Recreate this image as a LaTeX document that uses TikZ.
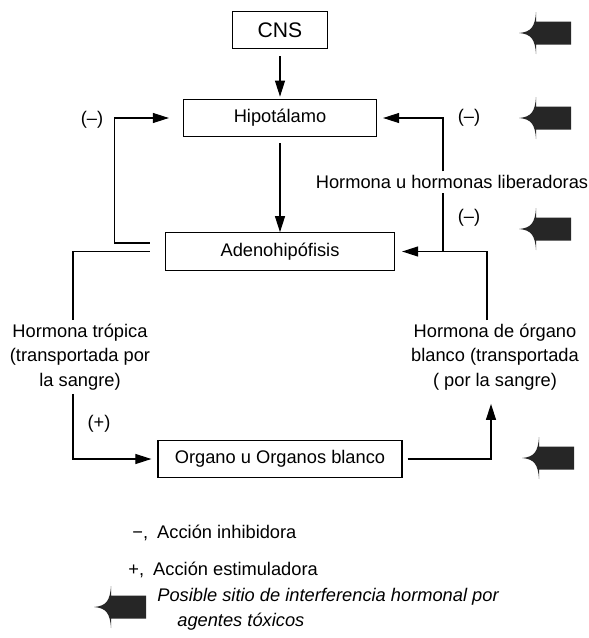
\documentclass[tikz,border=0pt]{standalone}
\usepackage{fontspec}
\setmainfont{Liberation Sans}
\usetikzlibrary{arrows.meta, positioning}

\begin{document}
\begin{tikzpicture}[
    font=\fontsize{10.4}{13.9}\selectfont,
    caja/.style={
        draw, line width=0.7pt, minimum height=0.75cm, inner sep=2pt
    },
    etiqueta/.style={align=center, inner sep=2pt},
    signo/.style={inner sep=0pt},
    linea/.style={line width=0.6pt},
    flecha/.style={-{Triangle[length=3.2mm, width=2mm]}, line width=0.6pt},
    sitio/.pic={
        \fill[black!85] (0,0) .. controls (0.24,0.02) and (0.32,0.12) .. (0.34,0.42)
            -- (0.34,0.23) -- (1.04,0.23) -- (1.04,-0.23) -- (0.34,-0.23) -- (0.34,-0.42)
            .. controls (0.32,-0.12) and (0.24,-0.02) .. (0,0) -- cycle;
    }
]
\useasboundingbox (0,0) rectangle (11.78,-12.76);

% cajas
\node[caja, minimum width=1.9cm, font=\fontsize{12}{14}\selectfont] (cns) at (5.6,-0.6) {CNS};
\node[caja, minimum width=3.86cm] (hipo) at (5.6,-2.36) {Hipotálamo};
\node[caja, minimum width=4.58cm] (adeno) at (5.6,-5.03) {Adenohipófisis};
\node[caja, minimum width=4.88cm] (organo) at (5.6,-9.18) {Organo u Organos blanco};

% textos de las hormonas
\node[etiqueta] (lib) at (9.04,-3.64) {Hormona u hormonas liberadoras};
\node[etiqueta] (trop) at (1.6,-7.14) {Hormona trópica\\(transportada por\\la sangre)};
\node[etiqueta] (blanco) at (9.9,-7.14) {Hormona de órgano\\blanco (transportada\\( por la sangre)};

\node[signo] (m1) at (1.84,-2.40) {(–)};
\node[signo] (m2) at (9.38,-2.36) {(–)};
\node[signo] (m3) at (9.38,-4.36) {(–)};
\node[signo] (p1) at (1.98,-8.48) {(+)};

\coordinate (fbl) at ([xshift=-0.3cm, yshift=0.17cm]adeno.west);
\coordinate (trl) at ([xshift=-0.3cm]adeno.west);
\coordinate (jr) at (8.86,-5.03);

\draw[flecha, shorten <=0.14cm, shorten >=0.04cm] (cns) -- (hipo);
\draw[flecha, shorten <=0.12cm] (hipo) -- (adeno);

\draw[flecha, shorten >=0.28cm] (fbl) -| ([xshift=-1.37cm]hipo.west) -- (hipo.west);
\draw[linea] (trl) -| ([xshift=-0.14cm]trop.north);
\draw[flecha, shorten >=0.12cm] ([xshift=-0.14cm]trop.south) |- (organo.west);

\draw[flecha, shorten <=0.1cm, shorten >=0.2cm] (organo.east) -| ([xshift=-0.08cm]blanco.south);
\draw[flecha, shorten >=0.14cm] ([xshift=-0.16cm]blanco.north) |- (adeno.east);
\draw[linea] (jr) -- (jr |- lib.south);
\draw[flecha, shorten >=0.12cm] (jr |- lib.north) |- (hipo.east);

% sitios de interferencia
\pic at (10.38,-0.66) {sitio};
\pic at (10.38,-2.36) {sitio};
\pic at (10.38,-4.58) {sitio};
\pic at (10.44,-9.16) {sitio};

% leyenda
\node[signo, anchor=west] (inh) at (2.64,-10.66) {−,\enspace Acción inhibidora};
\node[signo, anchor=west] (est) at (2.56,-11.40) {+,\enspace Acción estimuladora};
\pic at (1.88,-12.14) {sitio};
\node[signo, anchor=north west, align=left, font=\fontsize{10.4}{13.9}\selectfont\itshape] (pos) at (3.14,-11.76)
    {Posible sitio de interferencia hormonal por\\\hspace*{0.4cm}agentes tóxicos};

\end{tikzpicture}
\end{document}
